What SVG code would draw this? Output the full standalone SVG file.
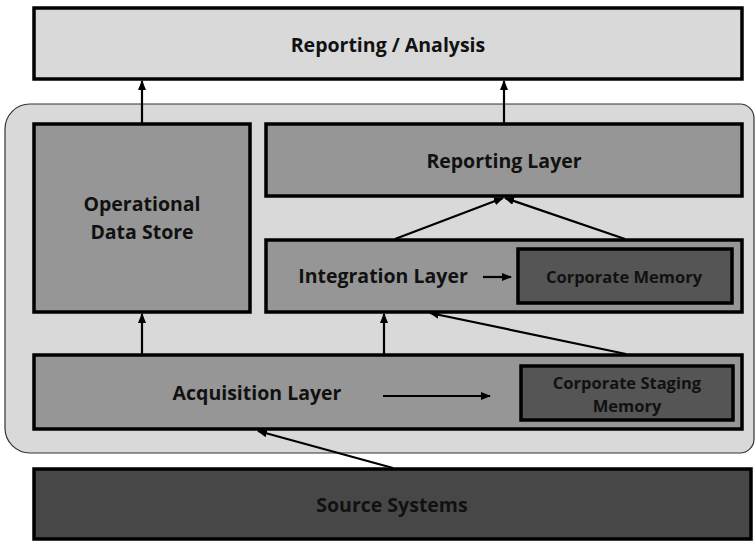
<svg xmlns="http://www.w3.org/2000/svg" width="756" height="541" viewBox="0 0 756 541">
<defs>
<style>
.box{stroke:#000;stroke-width:3.5}
.light{fill:#d9d9d9}
.mid{fill:#969696}
.dark{fill:#555555}
.src{fill:#474747}
.t{font-family:"Open Sans","Liberation Sans",sans-serif;font-weight:bold;fill:#111;text-anchor:middle}
.big{font-size:19.5px}
.small{font-size:16.5px}
.con{stroke:#000;stroke-width:2.2;fill:none;marker-end:url(#ah)}
</style>
<marker id="ah" markerWidth="10" markerHeight="8" refX="9" refY="4" orient="auto" markerUnits="userSpaceOnUse">
<path d="M0,0 L10,4 L0,8 Z" fill="#000"/>
</marker>
</defs>
<rect width="756" height="541" fill="#fff"/>
<g id="container">
<path d="M30,104 H740 A14,14 0 0 1 754,118 V439 A14,14 0 0 1 740,453 H30 A25,25 0 0 1 5,428 V129 A25,25 0 0 1 30,104 Z" fill="#d9d9d9" stroke="#333" stroke-width="1.2"/>
</g>
<g id="reporting-analysis">
<rect class="box light" x="34" y="8" width="708" height="71"/>
<text class="t big" x="388" y="52">Reporting / Analysis</text>
</g>
<g id="ods">
<rect class="box mid" x="34" y="124" width="216" height="188"/>
<text class="t big" x="142" y="211">Operational</text>
<text class="t big" x="142" y="239">Data Store</text>
</g>
<g id="reporting-layer">
<rect class="box mid" x="266" y="124" width="476" height="72"/>
<text class="t big" x="504" y="168">Reporting Layer</text>
</g>
<g id="integration-layer">
<rect class="box mid" x="266" y="240" width="476" height="72"/>
<text class="t big" x="383" y="283">Integration Layer</text>
</g>
<g id="corporate-memory">
<rect class="box dark" x="518" y="249" width="214" height="54"/>
<text class="t small" x="624" y="283">Corporate Memory</text>
</g>
<g id="acquisition-layer">
<rect class="box mid" x="34" y="355" width="708" height="74"/>
<text class="t big" x="257" y="400">Acquisition Layer</text>
</g>
<g id="corporate-staging-memory">
<rect class="box dark" x="521" y="366" width="212" height="54"/>
<text class="t small" x="627" y="389">Corporate Staging</text>
<text class="t small" x="627" y="412">Memory</text>
</g>
<g id="source-systems">
<rect class="box src" x="34" y="469" width="717" height="70"/>
<text class="t big" x="392" y="512">Source Systems</text>
</g>
<g id="connectors">
<line class="con" x1="142" y1="123" x2="142" y2="81"/>
<line class="con" x1="504" y1="123" x2="504" y2="81"/>
<line class="con" x1="395" y1="239" x2="503" y2="198"/>
<line class="con" x1="625" y1="239" x2="505" y2="198"/>
<line class="con" x1="142" y1="354" x2="142" y2="314"/>
<line class="con" x1="384" y1="354" x2="384" y2="314"/>
<line class="con" x1="626" y1="354" x2="430" y2="313"/>
<line class="con" x1="393" y1="468" x2="258" y2="431"/>
<line class="con" x1="383" y1="396" x2="490" y2="396"/>
<line class="con" x1="483" y1="277" x2="511" y2="277"/>
</g>
</svg>
